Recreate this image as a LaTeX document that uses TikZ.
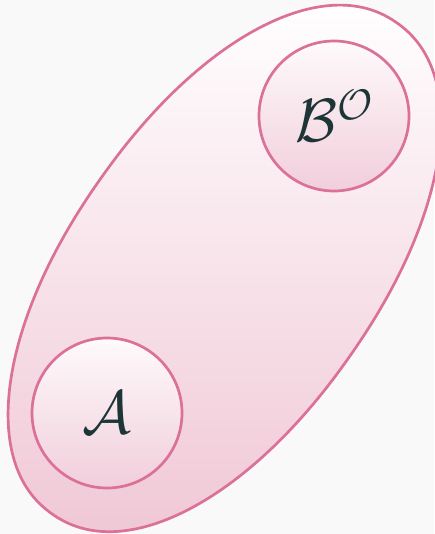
\documentclass[tikz,border=0pt]{standalone}
\usepackage{fix-cm}
\definecolor{bgc}{HTML}{F9F9F9}
\definecolor{edgec}{HTML}{DB7099}
\definecolor{toppink}{HTML}{FFFEFE}
\definecolor{botpink}{HTML}{F0C8D6}
\definecolor{ctop}{HTML}{FEFAFB}
\definecolor{cbot}{HTML}{F1CEDB}
\definecolor{txtc}{HTML}{1E3538}
\tikzset{
  setbox/.style={draw=edgec, line width=2.7pt, top color=ctop, bottom color=cbot,
    circle, minimum size=150pt, inner sep=0pt, text=txtc,
    font=\fontsize{61}{63}\selectfont},
  hull/.style={draw=edgec, line width=2.7pt, top color=toppink, bottom color=botpink}
}
\begin{document}
\begin{tikzpicture}[x=1pt,y=-1pt]
\fill[bgc] (0,0) rectangle (434,534);
\useasboundingbox (0,0) rectangle (434,534);
\draw[hull] plot[domain=1:358, samples=120, smooth cycle]
  ({224.5 + 172.2*cos(\x)*abs(cos(\x))^(-0.05) + 125.3*sin(\x)*abs(sin(\x))^(-0.05)},
   {268.4 - 245.7*cos(\x)*abs(cos(\x))^(-0.05) + 87.8*sin(\x)*abs(sin(\x))^(-0.05)});
\node[setbox] (b) at (334,116) {$\mathcal{B}^{\mathcal{O}}$};
\node[setbox] (a) at (107,413) {$\mathcal{A}$};
\end{tikzpicture}
\end{document}
